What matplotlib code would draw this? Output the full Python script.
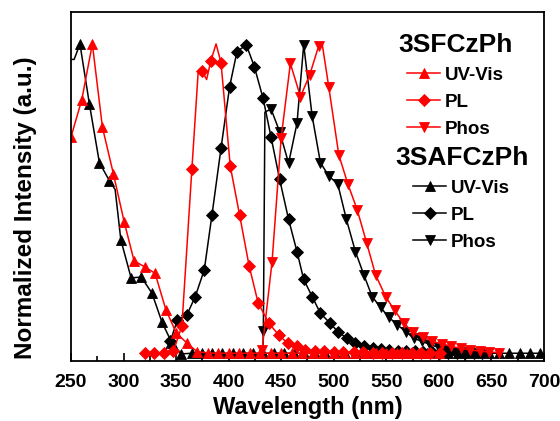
import matplotlib
matplotlib.use("Agg")
import matplotlib.pyplot as plt
from matplotlib.ticker import MultipleLocator
from matplotlib.lines import Line2D

plt.rcParams['font.family'] = ['Liberation Sans', 'DejaVu Sans']
plt.rcParams['font.weight'] = 'bold'

# ---------------- data ----------------
# 3SFCzPh (red)
sf_uv_x = [250, 260.2, 270.3, 279.9, 290.4, 300.5, 310, 320.6, 330, 340.3, 350.2, 360.3, 370,
           380, 390, 400, 410, 420, 430, 440, 450, 460, 470, 480, 490, 500, 510, 520, 530,
           540, 550, 560, 570, 580, 590, 600]
sf_uv_y = [0.70, 0.819, 1.0, 0.731, 0.58, 0.427, 0.30, 0.28, 0.26, 0.142, 0.067, 0.035, 0.007,
           0.003, 0.002, 0.002, 0.002, 0.002, 0.002, 0.002, 0.002, 0.002, 0.002, 0.002, 0.002,
           0.002, 0.002, 0.002, 0.002, 0.002, 0.002, 0.002, 0.002, 0.002, 0.002, 0.002]

sf_pl_x = [320, 329, 338.5, 347.5, 355.5, 365, 371, 374.6, 379, 383.1, 388, 392.7, 401.5, 410.4,
           419.4, 428, 438, 447.6, 456.2, 465, 473, 482, 491, 500, 509, 519, 528, 537, 546,
           555, 565, 574, 583, 592, 601]
sf_pl_y = [0.003, 0.003, 0.004, 0.01, 0.09, 0.596, 0.91, 0.914, 0.885, 0.946, 1.0, 0.94, 0.606,
           0.448, 0.285, 0.165, 0.10, 0.061, 0.034, 0.024, 0.013, 0.010, 0.008, 0.007, 0.006,
           0.005, 0.005, 0.004, 0.004, 0.004, 0.003, 0.003, 0.003, 0.003, 0.003]
sf_pl_unmarked = [371, 379, 388]

sf_ph_x = [428, 431.8, 441.3, 449.9, 458.7, 468.3, 477.1, 485.7, 489, 495.2, 504.8, 513.4, 522.3,
           531.2, 539.8, 549.3, 557.9, 566.7, 575.6, 585.2, 593.8, 603.3, 612, 621, 630, 639,
           648, 657]
sf_ph_y = [0.0, 0.013, 0.298, 0.696, 0.937, 0.83, 0.90, 0.994, 1.0, 0.862, 0.642, 0.548, 0.465,
           0.359, 0.255, 0.185, 0.14, 0.099, 0.069, 0.055, 0.04, 0.032, 0.024, 0.018, 0.013,
           0.009, 0.006, 0.004]
sf_ph_unmarked = [428, 489]

# 3SAFCzPh (black)
saf_uv_x = [250, 253, 258.5, 267.5, 277, 286.5, 292, 297.4, 307.2, 316.8, 327, 336.5, 346, 355,
            365, 375, 384, 394, 404, 414, 423, 433, 443, 453, 462, 472, 482, 492, 501, 511,
            521, 531, 540, 550, 560, 570, 579, 589, 599, 609, 618, 628, 638, 648, 657, 667,
            677, 687, 696]
saf_uv_y = [0.95, 0.95, 1.0, 0.806, 0.617, 0.559, 0.53, 0.368, 0.245, 0.248, 0.196, 0.103, 0.035,
            0.0, 0.002, 0.002, 0.002, 0.002, 0.002, 0.002, 0.002, 0.002, 0.002, 0.002, 0.002,
            0.002, 0.002, 0.002, 0.002, 0.002, 0.002, 0.002, 0.002, 0.002, 0.002, 0.002, 0.002,
            0.002, 0.002, 0.002, 0.002, 0.002, 0.002, 0.002, 0.002, 0.002, 0.002, 0.002, 0.002]
saf_uv_unmarked = [250, 253, 292]

saf_pl_x = [338, 344.4, 351.3, 360.3, 368.2, 376.8, 384.1, 392.7, 400.9, 407.9, 416.8, 424.4,
            432.7, 440.3, 448.5, 457, 465, 471.4, 479.4, 487.3, 496.2, 503.8, 512.7, 520.6, 529,
            537, 545, 553, 561, 569, 577, 585, 593, 601, 609, 617, 625, 633, 641]
saf_pl_y = [0.0, 0.04, 0.11, 0.126, 0.185, 0.271, 0.448, 0.663, 0.862, 0.975, 0.997, 0.927,
            0.825, 0.70, 0.563, 0.434, 0.33, 0.24, 0.185, 0.131, 0.10, 0.072, 0.05, 0.035, 0.026,
            0.02, 0.015, 0.012, 0.01, 0.009, 0.008, 0.007, 0.006, 0.005, 0.004, 0.004, 0.003,
            0.003, 0.003]
saf_pl_unmarked = [338]

saf_ph_x = [432.5, 433, 434.5, 440.3, 448.5, 457, 465, 471.4, 479.4, 487.3, 495.2, 503.8, 512,
            520.6, 528.6, 536.5, 544.5, 552.4, 560.4, 568.4, 576.3, 584.2, 592, 600, 608, 616, 624]
saf_ph_y = [0.0, 0.075, 0.78, 0.79, 0.717, 0.615, 0.744, 0.997, 0.768, 0.617, 0.574, 0.548, 0.434,
            0.33, 0.255, 0.185, 0.15, 0.118, 0.094, 0.072, 0.05, 0.04, 0.03, 0.02, 0.012, 0.007,
            0.004]
saf_ph_unmarked = [432.5, 434.5]

xticks = [250, 300, 350, 400, 450, 500, 550, 600, 650, 700]

# ---------------- plot ----------------
fig = plt.figure(figsize=(5.6, 4.21), dpi=100)
ax = fig.add_axes([0.1268, 0.1425, 0.8446, 0.829])

RED = '#ff0000'
BLK = '#000000'
LW = 1.1
MS_T = 7
MS_D = 6


def marks(xs, unmarked):
    return [i for i, v in enumerate(xs) if v not in unmarked]


def draw(xs, ys, color, marker, ms, unmarked=()):
    ax.plot(xs, ys, color=color, lw=LW, marker=marker, ms=ms, markevery=marks(xs, unmarked),
            markeredgewidth=0.6, clip_on=True)

draw(saf_uv_x, saf_uv_y, BLK, '^', MS_T, saf_uv_unmarked)
draw(saf_pl_x, saf_pl_y, BLK, 'D', MS_D, saf_pl_unmarked)
draw(saf_ph_x, saf_ph_y, BLK, 'v', MS_T, saf_ph_unmarked)
draw(sf_uv_x, sf_uv_y, RED, '^', MS_T)
draw(sf_pl_x, sf_pl_y, RED, 'D', MS_D, sf_pl_unmarked)
draw(sf_ph_x, sf_ph_y, RED, 'v', MS_T, sf_ph_unmarked)

ax.set_xlim(250, 700)
ax.set_ylim(-0.023, 1.103)
ax.set_xticks(xticks)
ax.xaxis.set_minor_locator(MultipleLocator(25))
ax.set_yticks([])
ax.tick_params(axis='x', which='major', direction='in', length=6, width=1.2,
               labelsize=14, pad=9, top=False)
ax.tick_params(axis='x', which='minor', direction='in', length=3.5, width=1.2, top=False)
for lab in ax.get_xticklabels():
    lab.set_fontweight('bold')
for s in ax.spines.values():
    s.set_linewidth(1.3)

ax.set_xlabel('Wavelength (nm)', fontsize=17, fontweight='bold', labelpad=4)
ax.set_ylabel('Normalized Intensity (a.u.)', fontsize=17.5, fontweight='bold')
ax.yaxis.set_label_coords(-0.072, 0.44)


def handles(color):
    return [Line2D([], [], color=color, lw=LW, marker=m, ms=s, markeredgewidth=0.6)
            for m, s in (('^', MS_T), ('D', MS_D), ('v', MS_T))]

labels = ['UV-Vis', 'PL', 'Phos']
leg_kw = dict(frameon=False, fontsize=13.5, handlelength=1.76, handletextpad=0.27,
              labelspacing=0.53, borderpad=0, borderaxespad=0, loc='upper center',
              title_fontproperties={'size': 19, 'weight': 'bold'})
leg1 = ax.legend(handles(RED), labels, title='3SFCzPh', bbox_to_anchor=(0.813, 0.941), **leg_kw)
for t in leg1.get_texts():
    t.set_fontweight('bold')
ax.add_artist(leg1)
leg2 = ax.legend(handles(BLK), labels, title='3SAFCzPh', bbox_to_anchor=(0.826, 0.617), **leg_kw)
for t in leg2.get_texts():
    t.set_fontweight('bold')

fig.savefig('out.png', dpi=100)
